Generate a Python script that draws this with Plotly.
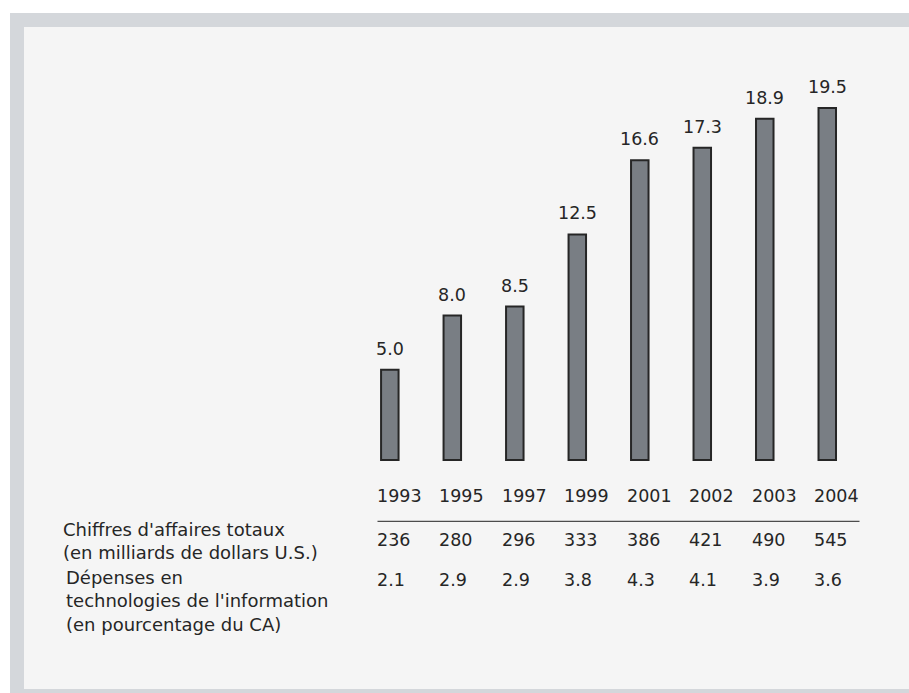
import plotly.graph_objects as go

# Chart data
years = ["1993", "1995", "1997", "1999", "2001", "2002", "2003", "2004"]
sales_share = [5.0, 8.0, 8.5, 12.5, 16.6, 17.3, 18.9, 19.5]
revenue_total = ["236", "280", "296", "333", "386", "421", "490", "545"]
it_spending_pct = ["2.1", "2.9", "2.9", "3.8", "4.3", "4.1", "3.9", "3.6"]
row_label_revenue = "Chiffres d'affaires totaux<br>(en milliards de dollars U.S.)"
row_label_it = "Dépenses en<br>technologies de l'information<br>(en pourcentage du CA)"

W, H = 909, 693
FONT = "DejaVu Sans"
TEXT_COLOR = "#262626"
FS = 17.5
FS_CAPTION = 18

# one slot per year on a linear axis
slots = list(range(len(years)))


def py(px_from_top):
    """Convert a pixel row (from the top) to paper y."""
    return 1 - px_from_top / H


def px(px_from_left):
    return px_from_left / W


fig = go.Figure()

fig.add_trace(go.Bar(
    x=slots,
    y=sales_share,
    width=0.28,
    marker=dict(color="#797e84", line=dict(color="#262626", width=2)),
    customdata=years,
    hovertemplate="%{customdata}: %{y:.1f}<extra></extra>",
))

annotations = []

# value labels above the bars
for i, v in zip(slots, sales_share):
    annotations.append(dict(
        x=i, y=v, xref="x", yref="y",
        text=f"{v:.1f}", showarrow=False,
        xanchor="center", yanchor="middle", yshift=21,
        font=dict(family=FONT, size=FS, color=TEXT_COLOR),
    ))

# table rows below the bars, left-aligned under each column
rows = [(years, 495.5), (revenue_total, 539.5), (it_spending_pct, 579.5)]
for values, row_px in rows:
    for i, val in zip(slots, values):
        annotations.append(dict(
            x=i, y=py(row_px), xref="x", yref="paper",
            text=val, showarrow=False,
            xanchor="left", yanchor="middle", xshift=-15,
            font=dict(family=FONT, size=FS, color=TEXT_COLOR),
        ))

# row captions
annotations.append(dict(
    x=px(61), y=py(540.5), xref="paper", yref="paper",
    text=row_label_revenue, showarrow=False, align="left",
    xanchor="left", yanchor="middle",
    font=dict(family=FONT, size=FS_CAPTION, color=TEXT_COLOR),
))
annotations.append(dict(
    x=px(64), y=py(600.5), xref="paper", yref="paper",
    text=row_label_it, showarrow=False, align="left",
    xanchor="left", yanchor="middle",
    font=dict(family=FONT, size=FS_CAPTION, color=TEXT_COLOR),
))

shapes = [
    # outer grey frame
    dict(type="rect", xref="paper", yref="paper", layer="below",
         x0=px(10), x1=1.01, y0=-0.01, y1=py(13),
         fillcolor="#d4d7db", line=dict(width=0)),
    # inner panel
    dict(type="rect", xref="paper", yref="paper", layer="below",
         x0=px(24), x1=1.01, y0=py(689), y1=py(27),
         fillcolor="#f5f5f5", line=dict(width=0)),
    # rule between the year row and the figures
    dict(type="line", xref="paper", yref="paper",
         x0=px(377.5), x1=px(859.5), y0=py(521.3), y1=py(521.3),
         line=dict(color="#4d4d4d", width=1.3)),
]

fig.update_layout(
    width=W, height=H, autosize=False,
    margin=dict(l=0, r=0, t=0, b=0, pad=0),
    paper_bgcolor="white", plot_bgcolor="rgba(0,0,0,0)",
    showlegend=False,
    xaxis=dict(range=[-6.238, 8.308], visible=False, fixedrange=True),
    yaxis=dict(range=[-12.909, 25.485], visible=False, fixedrange=True),
    annotations=annotations,
    shapes=shapes,
)

fig.write_html("out.html")
